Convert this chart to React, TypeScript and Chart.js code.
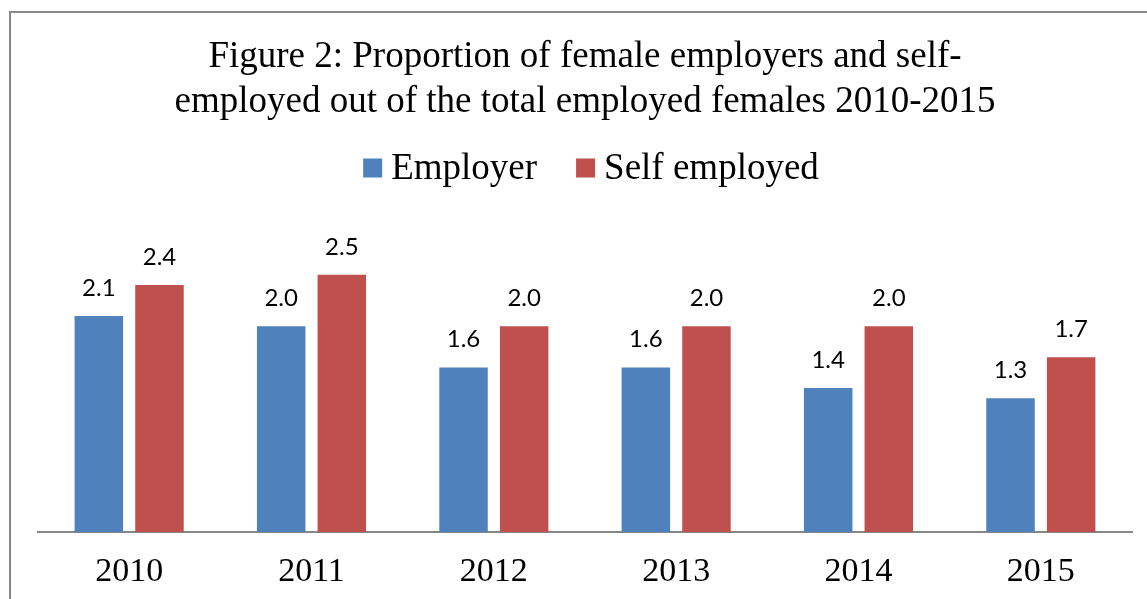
import React, { useEffect, useRef } from "react";
import { Chart, registerables } from "chart.js";

Chart.register(...registerables);

const years = ["2010", "2011", "2012", "2013", "2014", "2015"];
const employer = [2.1, 2.0, 1.6, 1.6, 1.4, 1.3];
const selfEmployed = [2.4, 2.5, 2.0, 2.0, 2.0, 1.7];
const seriesNames = ["Employer", "Self employed"];
const seriesColors = ["#4F81BD", "#C0504D"];
const titleLines = [
  "Figure 2: Proportion of female employers and self-",
  "employed out of the total employed females 2010-2015",
];

const serif = "'Liberation Serif', 'Times New Roman', serif";

const labelPlugin = {
  id: "barLabels",
  afterDatasetsDraw(chart: any) {
    const ctx = chart.ctx;
    ctx.save();
    ctx.font = "24px Lato, 'Open Sans', sans-serif";
    ctx.fillStyle = "#000";
    ctx.textAlign = "center";
    ctx.textBaseline = "middle";
    chart.data.datasets.forEach((ds: any, i: number) => {
      const meta = chart.getDatasetMeta(i);
      meta.data.forEach((bar: any, j: number) => {
        ctx.fillText(Number(ds.data[j]).toFixed(1), bar.x, bar.y - 28);
      });
    });
    ctx.restore();
  },
};

const legendPlugin = {
  id: "customLegend",
  afterDraw(chart: any) {
    const ctx = chart.ctx;
    ctx.save();
    ctx.font = `37px ${serif}`;
    ctx.textBaseline = "middle";
    const box = 19;
    const gapBoxText = 9;
    const gapItems = 39;
    const items = chart.data.datasets.map((d: any) => ({ label: d.label, color: d.backgroundColor }));
    const widths = items.map((it: any) => box + gapBoxText + ctx.measureText(it.label).width);
    const total = widths.reduce((a: number, b: number) => a + b, 0) + gapItems * (items.length - 1);
    let x = 591 - total / 2;
    const y = 168;
    items.forEach((it: any, i: number) => {
      ctx.fillStyle = it.color;
      ctx.fillRect(x, y - box / 2, box, box);
      ctx.fillStyle = "#000";
      ctx.textAlign = "left";
      ctx.fillText(it.label, x + box + gapBoxText, y + 1);
      x += widths[i] + gapItems;
    });
    ctx.restore();
  },
};

export default function App() {
  const ref = useRef<HTMLCanvasElement>(null);
  useEffect(() => {
    if (!ref.current) return;
    const chart = new Chart(ref.current, {
      type: "bar",
      data: {
        labels: years,
        datasets: [
          { label: seriesNames[0], data: employer, backgroundColor: seriesColors[0] },
          { label: seriesNames[1], data: selfEmployed, backgroundColor: seriesColors[1] },
        ],
      },
      options: {
        animation: false,
        responsive: false,
        layout: { padding: { left: 38, right: 15, top: 35, bottom: -12 } },
        datasets: { bar: { categoryPercentage: 0.665, barPercentage: 0.8 } } as any,
        scales: {
          x: {
            grid: { display: false, drawTicks: false },
            border: { color: "#878787", width: 2 },
            ticks: { color: "#000", font: { family: serif, size: 34 }, padding: 19 },
          },
          y: { display: false, min: 0, max: 3 },
        },
        plugins: {
          title: {
            display: true,
            text: titleLines,
            color: "#000",
            font: { family: serif, size: 37, weight: "normal", lineHeight: 1.22 },
            padding: { top: 0, bottom: 98 },
          },
          legend: { display: false },
          tooltip: { enabled: false },
        },
      },
      plugins: [labelPlugin, legendPlugin],
    });
    return () => chart.destroy();
  }, []);
  return (
    <div style={{ position: "absolute", left: 0, top: 0, width: 1147, height: 599, background: "#fff" }}>
      <div
        style={{
          position: "absolute",
          left: 9,
          top: 11,
          width: 1147,
          height: 599,
          borderLeft: "2px solid #888",
          borderTop: "2px solid #888",
        }}
      />
      <canvas ref={ref} width={1147} height={599} style={{ position: "absolute", left: 0, top: 0 }} />
    </div>
  );
}
